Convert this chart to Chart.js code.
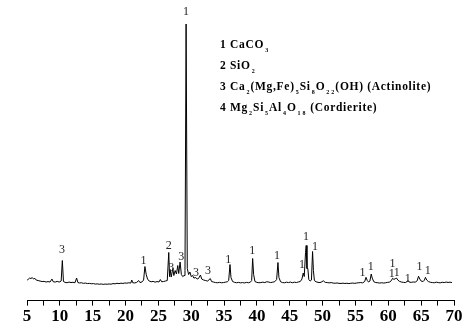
<!DOCTYPE html>
<html>
<head>
<meta charset="utf-8">
<script src="https://cdn.jsdelivr.net/npm/chart.js@4.4.1/dist/chart.umd.min.js"></script>
<style>
  body { margin: 0; background: #fff; }
  #wrap { width: 472px; height: 331px; }
</style>
</head>
<body>
<div id="wrap"><canvas id="xrd" width="472" height="331"></canvas></div>
<script>
// 2-theta (deg) and intensity
var twoTheta = [
  5.0, 5.2, 5.4, 5.6, 5.8, 6.0, 6.2, 6.4, 6.7, 7.0,
  7.3, 7.6, 7.9, 8.2, 8.5, 8.8, 9.0, 9.3, 9.6, 9.9,
  10.2, 10.38, 10.55, 10.8, 11.1, 11.4, 11.7, 12.0, 12.3, 12.55,
  12.75, 13.0, 13.3, 13.6, 13.9, 14.2, 14.5, 14.8, 15.1, 15.4,
  15.7, 16.0, 16.3, 16.6, 16.9, 17.2, 17.5, 17.8, 18.1, 18.4,
  18.7, 19.0, 19.3, 19.6, 19.9, 20.2, 20.5, 20.8, 20.95, 21.1,
  21.4, 21.7, 22.0, 22.2, 22.5, 22.75, 22.95, 23.15, 23.35, 23.6,
  23.9, 24.2, 24.5, 24.8, 25.1, 25.3, 25.5, 25.8, 26.1, 26.35,
  26.58, 26.7, 26.8, 26.95, 27.2, 27.35, 27.55, 27.75, 27.95, 28.1,
  28.3, 28.5, 28.7, 28.9, 29.05, 29.22, 29.4, 29.6, 29.8, 30.0,
  30.2, 30.4, 30.7, 30.9, 31.1, 31.4, 31.6, 31.9, 32.2, 32.5,
  32.9, 33.1, 33.4, 33.7, 34.0, 34.3, 34.6, 34.9, 35.2, 35.5,
  35.7, 35.9, 36.05, 36.3, 36.6, 36.9, 37.2, 37.5, 37.8, 38.1,
  38.4, 38.7, 39.0, 39.2, 39.35, 39.5, 39.7, 40.0, 40.3, 40.6,
  40.9, 41.2, 41.5, 41.8, 42.1, 42.4, 42.7, 43.0, 43.2, 43.35,
  43.6, 43.9, 44.2, 44.5, 44.8, 45.1, 45.4, 45.7, 46.0, 46.3,
  46.6, 46.85, 47.05, 47.2, 47.4, 47.5, 47.62, 47.75, 47.9, 48.1,
  48.3, 48.47, 48.6, 48.75, 49.0, 49.3, 49.6, 49.9, 50.1, 50.4,
  50.7, 51.0, 51.3, 51.6, 51.9, 52.2, 52.5, 52.8, 53.1, 53.4,
  53.7, 54.0, 54.3, 54.6, 54.9, 55.2, 55.5, 55.8, 56.1, 56.4,
  56.6, 56.8, 57.0, 57.2, 57.4, 57.55, 57.8, 58.1, 58.4, 58.7,
  59.0, 59.3, 59.6, 59.9, 60.2, 60.45, 60.65, 60.85, 61.05, 61.25,
  61.45, 61.7, 62.0, 62.3, 62.6, 62.8, 63.0, 63.2, 63.5, 63.8,
  64.1, 64.4, 64.6, 64.8, 65.0, 65.3, 65.5, 65.65, 65.85, 66.1,
  66.4, 66.7, 67.0, 67.3, 67.6, 67.9, 68.2, 68.5, 68.8, 69.1,
  69.4, 69.7
];
var intensity = [
  200, 215, 225, 220, 230, 215, 222, 205, 200, 195,
  190, 192, 185, 190, 185, 215, 188, 185, 192, 185,
  195, 400, 190, 182, 178, 185, 180, 183, 178, 225,
  180, 176, 178, 172, 175, 170, 172, 168, 170, 165,
  167, 163, 166, 162, 165, 163, 166, 164, 170, 167,
  173, 169, 174, 171, 176, 174, 178, 175, 205, 178,
  176, 182, 200, 180, 186, 205, 340, 260, 215, 195,
  188, 192, 184, 190, 186, 210, 188, 190, 196, 200,
  480, 240, 310, 235, 320, 250, 300, 265, 350, 270,
  385, 260, 240, 250, 300, 2760, 320, 260, 285, 240,
  250, 225, 230, 215, 220, 255, 215, 205, 200, 195,
  220, 190, 185, 180, 178, 182, 178, 180, 184, 188,
  200, 360, 230, 190, 182, 178, 182, 177, 180, 176,
  182, 178, 184, 200, 420, 260, 190, 182, 178, 180,
  184, 180, 188, 185, 180, 184, 188, 210, 380, 230,
  188, 180, 178, 184, 180, 185, 178, 184, 180, 186,
  190, 215, 275, 240, 480, 550, 320, 320, 210, 195,
  205, 490, 300, 200, 188, 182, 180, 188, 198, 182,
  180, 177, 180, 175, 173, 176, 172, 171, 174, 171,
  173, 170, 173, 175, 172, 176, 178, 180, 177, 190,
  232, 200, 185, 195, 265, 225, 188, 180, 178, 175,
  178, 175, 178, 182, 185, 198, 222, 212, 218, 225,
  205, 192, 185, 182, 180, 186, 200, 184, 182, 186,
  184, 198, 243, 215, 195, 190, 205, 232, 205, 190,
  183, 180, 178, 184, 180, 177, 183, 180, 185, 181,
  184, 180
];
if (twoTheta.length !== intensity.length) console.error("data length mismatch");

// phase markers above the peaks
var markTheta  = [10.32, 22.72, 26.58, 26.95, 28.47, 29.22, 30.74, 32.57, 35.65, 39.3, 43.05, 46.85, 47.46, 48.83, 56.06, 57.34, 60.62, 60.53, 61.29, 62.96, 64.73, 66.0];
var markHeight = [510, 393, 550, 327, 440, 2880, 273, 300, 407, 500, 450, 357, 640, 540, 273, 340, 367, 267, 277, 217, 333, 300];
var markText   = ["3", "1", "2", "3", "3", "1", "3", "3", "1", "1", "1", "1", "1", "1", "1", "1", "1", "1", "1", "1", "1", "1"];

// phase list, "_n" = subscript
var phaseLines = [
  "1 CaCO_3",
  "2 SiO_2",
  "3 Ca_2(Mg,Fe)_5Si_8O_22(OH) (Actinolite)",
  "4 Mg_2Si_5Al_4O_18 (Cordierite)"
];

var xTicks = [5, 10, 15, 20, 25, 30, 35, 40, 45, 50, 55, 60, 65, 70];

var points = twoTheta.map(function (t, i) { return { x: t, y: intensity[i] }; });

var markPlugin = {
  id: "marks",
  afterDatasetsDraw: function (chart) {
    var ctx = chart.ctx;
    var xs = chart.scales.x, ys = chart.scales.y;
    ctx.save();
    ctx.fillStyle = "#222";
    ctx.font = "12px 'Liberation Serif', serif";
    ctx.textAlign = "center";
    ctx.textBaseline = "middle";
    for (var i = 0; i < markTheta.length; i++) {
      ctx.fillText(markText[i], xs.getPixelForValue(markTheta[i]), ys.getPixelForValue(markHeight[i]));
    }
    ctx.restore();
  }
};

// bold serif text, a little letter spacing; subscripts keep a full-size advance
var phasePlugin = {
  id: "phases",
  afterDraw: function (chart) {
    var ctx = chart.ctx;
    var big = "bold 11.5px 'Liberation Serif', serif";
    var small = "bold 6px 'Liberation Serif', serif";
    var gap = 0.7;
    ctx.save();
    ctx.fillStyle = "#000";
    ctx.textBaseline = "middle";
    ctx.textAlign = "left";
    var y = 45;
    phaseLines.forEach(function (line) {
      var x = 220;
      var parts = line.split(/_(\d+)/);
      parts.forEach(function (p, k) {
        if (!p) return;
        for (var c = 0; c < p.length; c++) {
          var ch = p[c];
          if (k % 2 === 1) {
            ctx.font = small;
            ctx.fillText(ch, x + 1, y + 5);
            ctx.font = big;
            x += ctx.measureText("0").width * 0.75 + gap;
          } else {
            ctx.font = big;
            ctx.fillText(ch, x, y);
            x += ctx.measureText(ch).width + gap;
          }
        }
      });
      y += 21;
    });
    ctx.restore();
  }
};

new Chart(document.getElementById("xrd"), {
  type: "line",
  data: {
    datasets: [{
      data: points,
      borderColor: "#000",
      borderWidth: 1,
      pointRadius: 0,
      tension: 0,
      fill: false
    }]
  },
  options: {
    responsive: false,
    animation: false,
    layout: { padding: { left: 27, right: 18, top: 10, bottom: 3 } },
    plugins: { legend: { display: false }, tooltip: { enabled: false } },
    scales: {
      x: {
        type: "linear",
        min: 5,
        max: 70,
        border: { display: true, color: "#000", width: 1 },
        grid: { display: true, drawOnChartArea: false, color: "#000", tickLength: 5 },
        ticks: {
          stepSize: 2.5,
          autoSkip: false,
          maxRotation: 0,
          color: "#000",
          padding: 1,
          font: { family: "'Liberation Serif', serif", size: 17, weight: "bold" },
          callback: function (v) { return xTicks.indexOf(v) >= 0 ? String(v) : ""; }
        }
      },
      y: { display: false, min: 0, max: 2900 }
    }
  },
  plugins: [markPlugin, phasePlugin]
});
</script>
</body>
</html>
